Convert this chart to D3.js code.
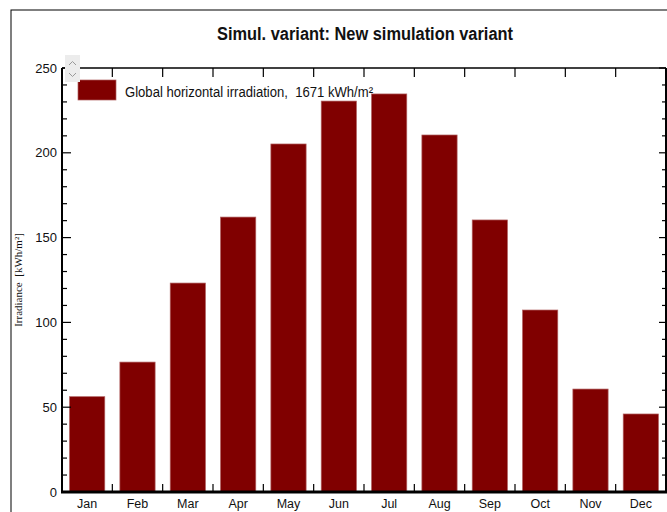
<!DOCTYPE html>
<html><head><meta charset="utf-8">
<script src="https://cdn.jsdelivr.net/npm/d3@7"></script>
<style>body{margin:0;background:#fff}svg{display:block}text{white-space:pre}</style>
</head><body>
<script>
const months = ["Jan","Feb","Mar","Apr","May","Jun","Jul","Aug","Sep","Oct","Nov","Dec"];
const ghi = [56.2,76.6,123.2,162.1,205.2,230.5,234.7,210.5,160.4,107.3,60.7,46.0];
const yTicks = [0,50,100,150,200,250];
const title = "Simul. variant: New simulation variant";
const legendLabel = "Global horizontal irradiation,  1671 kWh/m\u00b2";
const yLabel = "Irradiance  [kWh/m\u00b2]";

const W=667,H=512;
const svg=d3.select("body").append("svg").attr("width",W).attr("height",H);
const L=62,R=666,T=68,B=492;
// outer frame
svg.append("rect").attr("x",11).attr("y",10).attr("width",W).attr("height",H).attr("fill","none").attr("stroke","#000").attr("stroke-width",1);

const x=d3.scaleBand().domain(months).range([L,R]).paddingInner(0.3).paddingOuter(0.15);
const xb=d3.scaleLinear().domain([0,12]).range([L,R]);
const y=d3.scaleLinear().domain([0,250]).range([B,T]);

svg.append("text").attr("x",217).attr("y",39.5)
  .attr("textLength",296).attr("lengthAdjust","spacingAndGlyphs")
  .attr("font-family","Liberation Sans, Arial, sans-serif").attr("font-weight","bold").attr("font-size",18)
  .attr("fill","#111").text(title);

// bars
svg.append("g").selectAll("rect").data(months).join("rect")
  .attr("x",d=>x(d)).attr("width",x.bandwidth())
  .attr("y",(d,i)=>y(ghi[i])).attr("height",(d,i)=>B-y(ghi[i]))
  .attr("fill","#800000").attr("stroke","#b06060").attr("stroke-width",0.7);

const ax=svg.append("g").attr("stroke","#000");
ax.append("line").attr("x1",L).attr("x2",R).attr("y1",T).attr("y2",T).attr("stroke-width",1.5);
ax.append("line").attr("x1",L).attr("x2",L).attr("y1",T).attr("y2",B).attr("stroke-width",2);
ax.append("line").attr("x1",R).attr("x2",R).attr("y1",T).attr("y2",B).attr("stroke-width",2);
ax.append("line").attr("x1",L-1).attr("x2",R+1).attr("y1",B).attr("y2",B).attr("stroke-width",3);
const minor=d3.range(0,251,10);
minor.forEach(v=>{
  const maj=v%50===0;
  ax.append("line").attr("x1",L).attr("x2",L+(maj?9:5)).attr("y1",y(v)).attr("y2",y(v)).attr("stroke-width",1.2);
  ax.append("line").attr("x1",R).attr("x2",R-(maj?7:4)).attr("y1",y(v)).attr("y2",y(v)).attr("stroke-width",1.2);
});
d3.range(1,12).forEach(i=>{
  ax.append("line").attr("x1",xb(i)).attr("x2",xb(i)).attr("y1",T).attr("y2",T+9).attr("stroke-width",1.2);
  ax.append("line").attr("x1",xb(i)).attr("x2",xb(i)).attr("y1",B).attr("y2",B-8).attr("stroke-width",1.2);
});

const tf="Liberation Sans, Arial, sans-serif";
svg.append("g").selectAll("text").data(yTicks).join("text")
  .attr("x",57).attr("y",d=>y(d)+4.5).attr("text-anchor","end")
  .attr("font-family",tf).attr("font-size",13).attr("fill","#111").text(d=>d);
svg.append("g").selectAll("text").data(months).join("text")
  .attr("x",d=>x(d)+x.bandwidth()/2).attr("y",508).attr("text-anchor","middle")
  .attr("font-family",tf).attr("font-size",12.5).attr("fill","#111").text(d=>d);

svg.append("text").attr("transform","translate(22,280) rotate(-90)").attr("text-anchor","middle")
  .attr("font-family","Liberation Serif, Times New Roman, serif").attr("font-size",11).attr("fill","#111").text(yLabel);

svg.append("rect").attr("x",78).attr("y",80).attr("width",38).attr("height",20).attr("fill","#800000").attr("stroke","#b06060").attr("stroke-width",0.7);
svg.append("text").attr("x",125).attr("y",96.5).attr("textLength",248).attr("lengthAdjust","spacingAndGlyphs")
  .attr("font-family",tf).attr("font-size",14).attr("fill","#111").text(legendLabel);

const sw=svg.append("g");
sw.append("rect").attr("x",65).attr("y",55).attr("width",15).attr("height",27).attr("fill","#ececec");
sw.append("path").attr("d","M69,65 L72.5,61.5 L76,65").attr("fill","none").attr("stroke","#999").attr("stroke-width",1);
sw.append("path").attr("d","M69,73 L72.5,76.5 L76,73").attr("fill","none").attr("stroke","#999").attr("stroke-width",1);
</script>
</body></html>
